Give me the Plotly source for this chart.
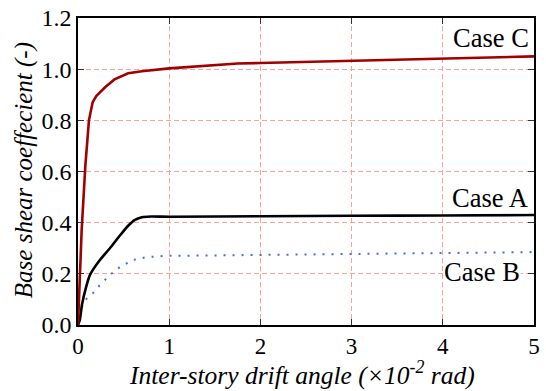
import plotly.graph_objects as go

x_c = [0, 0.04, 0.08, 0.12, 0.16, 0.2, 0.3, 0.4, 0.55, 0.7, 1.0, 1.5, 1.75, 2.0, 3.0, 4.0, 5.0]
y_c = [0, 0.37, 0.62, 0.80, 0.87, 0.895, 0.93, 0.96, 0.984, 0.992, 1.003, 1.015, 1.022, 1.024, 1.033, 1.043, 1.05]

x_a = [0, 0.02, 0.044, 0.09, 0.13, 0.24, 0.35, 0.46, 0.55, 0.62, 0.7, 0.8, 1.0, 2.0, 3.0, 4.0, 5.0]
y_a = [0, 0.02, 0.08, 0.15, 0.195, 0.254, 0.30, 0.350, 0.388, 0.410, 0.421, 0.424, 0.423, 0.425, 0.427, 0.428, 0.43]

x_b = [0, 0.03, 0.055, 0.1, 0.165, 0.25, 0.35, 0.46, 0.6, 0.75, 0.94, 1.5, 2.0, 3.0, 4.0, 5.0]
y_b = [0, 0.05, 0.086, 0.105, 0.125, 0.16, 0.195, 0.227, 0.254, 0.265, 0.27, 0.272, 0.274, 0.279, 0.282, 0.285]

labels = ["Case C", "Case A", "Case B"]
label_x = [4.96, 4.95, 4.86]
label_y = [1.122, 0.496, 0.207]

x_title = "<i>Inter-story drift angle (×10<sup>-2</sup> rad)</i>"
y_title = "<i>Base shear coeffecient (-)</i>"

FONT = "Liberation Serif"

fig = go.Figure()
fig.add_trace(go.Scatter(x=x_b, y=y_b, mode="lines", line=dict(color="#3d6fe8", width=2, dash="2px,7px")))
fig.add_trace(go.Scatter(x=x_a, y=y_a, mode="lines", line=dict(color="black", width=2.6, shape="spline", smoothing=0.6)))
fig.add_trace(go.Scatter(x=x_c, y=y_c, mode="lines", line=dict(color="#a00000", width=2.6)))

for t, xx, yy in zip(labels, label_x, label_y):
    fig.add_annotation(x=xx, y=yy, text=t, showarrow=False, xanchor="right", yanchor="middle",
                       bgcolor="white", font=dict(family=FONT, size=26.5, color="black"),
                       borderpad=0)

fig.add_annotation(x=0.492, y=-0.158, xref="paper", yref="paper", text=x_title, showarrow=False,
                   xanchor="center", yanchor="middle", font=dict(family=FONT, size=25.5, color="black"))
fig.add_annotation(x=-0.118, y=0.505, xref="paper", yref="paper", text=y_title, showarrow=False,
                   textangle=-90, xanchor="center", yanchor="middle",
                   font=dict(family=FONT, size=25, color="black"))

fig.update_layout(
    width=546, height=391,
    margin=dict(l=78, r=12, t=18, b=66, autoexpand=False),
    paper_bgcolor="white", plot_bgcolor="white",
    showlegend=False,
    font=dict(family=FONT, size=23, color="black"),
)
fig.update_xaxes(range=[0, 5], tickvals=[0, 1, 2, 3, 4, 5], ticks="inside", ticklen=6, tickwidth=1,
                 tickcolor="#333", showline=True, linecolor="black", linewidth=1.6, mirror="allticks",
                 showgrid=True, gridcolor="#ffa0a0", griddash="5px,3px", gridwidth=1, zeroline=False,
                 automargin=False, tickfont=dict(family=FONT, size=23))
fig.update_yaxes(range=[0, 1.2], tickvals=[0, 0.2, 0.4, 0.6, 0.8, 1.0, 1.2], tickformat=".1f",
                 ticks="inside", ticklen=6, tickwidth=1, tickcolor="#333",
                 showline=True, linecolor="black", linewidth=1.6, mirror="allticks",
                 showgrid=True, gridcolor="#ffa0a0", griddash="5px,3px", gridwidth=1, zeroline=False,
                 automargin=False, tickfont=dict(family=FONT, size=24))

fig.write_html("out.html")
